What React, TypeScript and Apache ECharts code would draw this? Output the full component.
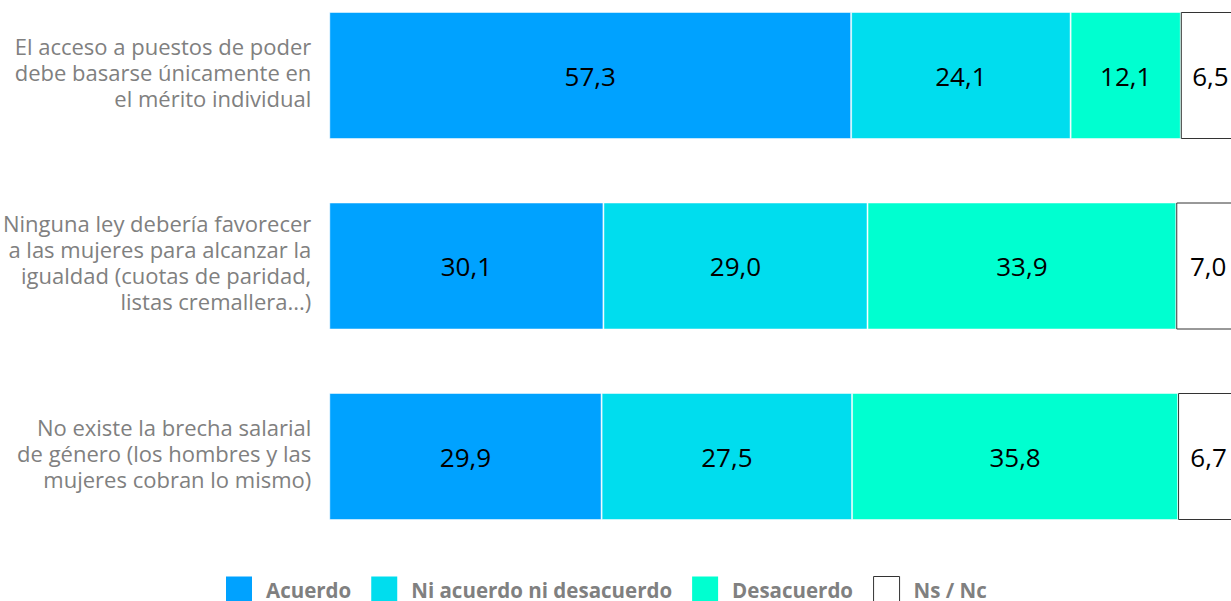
import React, { useEffect, useRef } from "react";
import * as echarts from "echarts";

const categories = [
  "El acceso a puestos de poder\ndebe basarse únicamente en\nel mérito individual",
  "Ninguna ley debería favorecer\na las mujeres para alcanzar la\nigualdad (cuotas de paridad,\nlistas cremallera...)",
  "No existe la brecha salarial\nde género (los hombres y las\nmujeres cobran lo mismo)",
];
const seriesNames = ["Acuerdo", "Ni acuerdo ni desacuerdo", "Desacuerdo", "Ns / Nc"];
const acuerdo = [57.3, 30.1, 29.9];
const niAcuerdo = [24.1, 29.0, 27.5];
const desacuerdo = [12.1, 33.9, 35.8];
const nsnc = [6.5, 7.0, 6.7];
const colors = ["#00A2FF", "#00DDEE", "#00FFD0", "#FFFFFF"];

const FONT = "Open Sans";

export default function App() {
  const ref = useRef<HTMLDivElement>(null);
  useEffect(() => {
    document.body.style.margin = "0";
    document.body.style.overflow = "hidden";
    const chart = echarts.init(ref.current!, null, { renderer: "svg" });
    const data = [acuerdo, niAcuerdo, desacuerdo, nsnc];
    const fmt = (p: any) => Number(p.value).toFixed(1).replace(".", ",");
    chart.setOption({
      animation: false,
      grid: { left: 328, right: 0, top: 0.25, bottom: 68.25, containLabel: false },
      xAxis: { type: "value", min: 0, max: 100, show: false },
      yAxis: {
        type: "category",
        inverse: true,
        data: categories,
        axisLine: { show: false },
        axisTick: { show: false },
        axisLabel: {
          margin: 18,
          color: "#808080",
          fontSize: 22,
          lineHeight: 26,
          fontFamily: FONT,
          align: "right",
          formatter: (v: string) =>
            v
              .split("\n")
              .map((l) => `{t|${l}}`)
              .join("\n") + "\n{s| }",
          rich: {
            t: {
              color: "#808080",
              fontSize: 22,
              lineHeight: 26,
              fontFamily: FONT,
              align: "right",
            },
            s: { fontSize: 1, lineHeight: 8 },
          },
        },
      },
      legend: {
        left: 226,
        top: 596,
        padding: 0,
        itemWidth: 26,
        itemHeight: 27,
        itemGap: 20,
        icon: "rect",
        textStyle: {
          color: "#808080",
          fontSize: 20.5,
          fontWeight: "bold",
          fontFamily: FONT,
          padding: [0, 0, 0, 9],
        },
        data: seriesNames.map((n, i) => ({
          name: n,
          itemStyle:
            i === 3
              ? { color: "#fff", borderColor: "#333", borderWidth: 1 }
              : { color: colors[i], borderWidth: 0 },
        })),
      },
      series: seriesNames.map((name, i) => ({
        name,
        type: "bar",
        stack: "total",
        barWidth: 127,
        data: data[i],
        itemStyle:
          i === 3
            ? { color: "#fff", borderColor: "#333", borderWidth: 1 }
            : { color: colors[i], borderColor: "rgba(255,255,255,0.5)", borderWidth: 1 },
        label: {
          show: true,
          position: "inside",
          formatter: fmt,
          color: "#000",
          fontSize: 26,
          fontWeight: 500,
          fontFamily: FONT,
        },
      })),
    });
    return () => chart.dispose();
  }, []);
  return (
    <div
      ref={ref}
      style={{ position: "absolute", left: 0, top: -20, width: 1240, height: 640 }}
    />
  );
}
